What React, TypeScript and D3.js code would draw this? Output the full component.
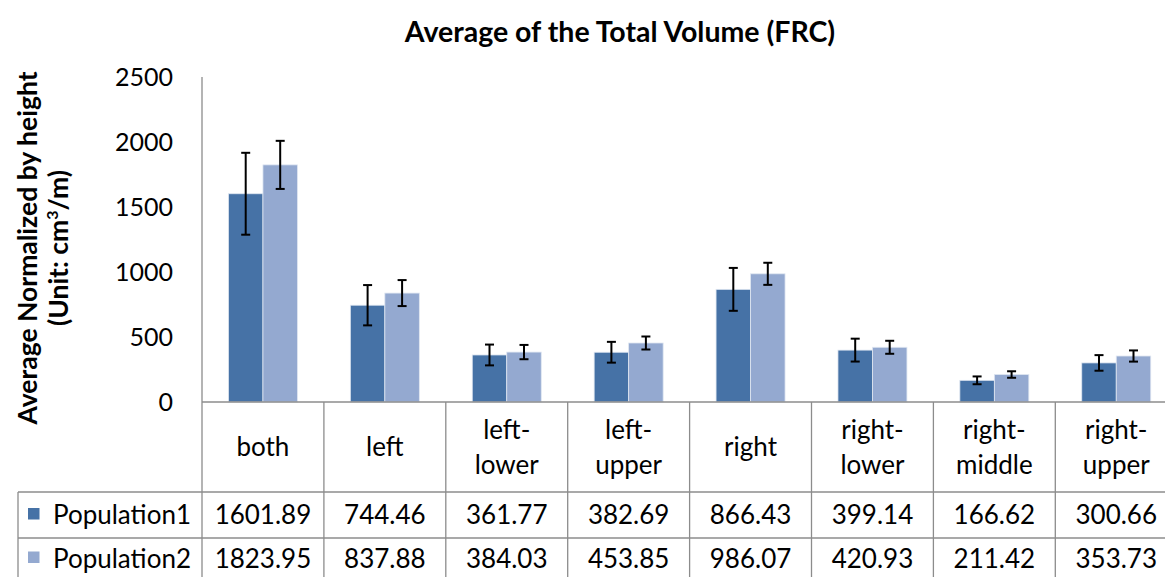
import React from "react";
import * as d3 from "d3";

const categories = [
  ["both"],
  ["left"],
  ["left-", "lower"],
  ["left-", "upper"],
  ["right"],
  ["right-", "lower"],
  ["right-", "middle"],
  ["right-", "upper"],
];
const seriesNames = ["Population1", "Population2"];
const pop1 = [1601.89, 744.46, 361.77, 382.69, 866.43, 399.14, 166.62, 300.66];
const pop2 = [1823.95, 837.88, 384.03, 453.85, 986.07, 420.93, 211.42, 353.73];
const err1 = [315, 155, 80, 80, 165, 88, 30, 60];
const err2 = [185, 100, 55, 50, 85, 50, 25, 43];
const yTicks = [0, 500, 1000, 1500, 2000, 2500];
const colors = ["#4672A6", "#94A9D0"];

const FONT = "Lato, 'Open Sans', sans-serif";

export default function App() {
  const W = 1165, H = 577;
  const left = 202, colW = 121.9;
  const keys = categories.map((c) => c.join(""));
  const x0 = d3.scaleBand<string>().domain(keys).range([left, left + colW * keys.length]).padding(0);
  const x1 = d3.scaleBand<string>().domain(seriesNames).range([0, x0.bandwidth()]).paddingInner(0).paddingOuter(0.767);
  const y = d3.scaleLinear().domain([0, 2500]).range([402, 77]);
  const values = [pop1, pop2];
  const errs = [err1, err2];
  const tableTop = 402, headBottom = 492, row1Bottom = 538, row2Bottom = 580;
  const axisColor = "#8c8c8c";
  const fs = 26;

  return (
    <svg width={W} height={H} style={{ position: "absolute", left: 0, top: 0, background: "#fff" }} fontFamily={FONT}>
      <text x={620} y={42} textAnchor="middle" fontSize={28.5} fontWeight="bold" fill="#000">
        Average of the Total Volume (FRC)
      </text>
      <g transform={`translate(37,${248}) rotate(-90)`}>
        <text x={0} y={0} textAnchor="middle" fontSize={26.5} fontWeight="bold" fill="#000">
          Average Normalized by height
        </text>
        <text x={0} y={31} textAnchor="middle" fontSize={26.5} fontWeight="bold" fill="#000">
          (Unit: cm<tspan fontSize={16} dy={-10}>3</tspan><tspan dy={10}>/m)</tspan>
        </text>
      </g>
      {yTicks.map((t) => (
        <text key={t} x={173} y={y(t)} dy="0.35em" textAnchor="end" fontSize={25} fill="#000">
          {t}
        </text>
      ))}
      {keys.map((k, i) => (
        <g key={k} transform={`translate(${x0(k)},0)`}>
          {seriesNames.map((s, j) => {
            const v = values[j][i];
            const bx = x1(s)!;
            const bw = x1.bandwidth();
            const cx = bx + bw / 2;
            const e = errs[j][i];
            return (
              <g key={s}>
                <rect x={bx} y={y(v)} width={bw} height={y(0) - y(v)} fill={colors[j]} stroke="#dfe6f1" strokeWidth={0.8} />
                <line x1={cx} x2={cx} y1={y(v + e)} y2={y(v - e)} stroke="#000" strokeWidth={2} />
                <line x1={cx - 4.5} x2={cx + 4.5} y1={y(v + e)} y2={y(v + e)} stroke="#000" strokeWidth={2} />
                <line x1={cx - 4.5} x2={cx + 4.5} y1={y(v - e)} y2={y(v - e)} stroke="#000" strokeWidth={2} />
              </g>
            );
          })}
        </g>
      ))}
      <line x1={left} x2={left} y1={y(2500)} y2={row2Bottom} stroke={axisColor} strokeWidth={1.3} />
      <line x1={left} x2={W} y1={y(0)} y2={y(0)} stroke={axisColor} strokeWidth={1.3} />
      {keys.map((k) => (
        <line key={k} x1={x0(k)! + colW} x2={x0(k)! + colW} y1={tableTop} y2={row2Bottom} stroke={axisColor} strokeWidth={1.3} />
      ))}
      <line x1={18} x2={W} y1={headBottom} y2={headBottom} stroke={axisColor} strokeWidth={1.3} />
      <line x1={18} x2={W} y1={row1Bottom} y2={row1Bottom} stroke={axisColor} strokeWidth={1.3} />
      <line x1={18} x2={18} y1={headBottom} y2={row2Bottom} stroke={axisColor} strokeWidth={1.3} />
      {categories.map((lines, i) => {
        const cx = x0(keys[i])! + colW / 2;
        const mid = (tableTop + headBottom) / 2;
        return (
          <text key={i} x={cx} textAnchor="middle" fontSize={fs} fill="#000">
            {lines.map((l, li) => (
              <tspan key={li} x={cx} y={mid + (li - (lines.length - 1) / 2) * 35} dy="0.35em">
                {l}
              </tspan>
            ))}
          </text>
        );
      })}
      {seriesNames.map((s, j) => {
        const rowMid = j === 0 ? (headBottom + row1Bottom) / 2 : (row1Bottom + 577) / 2 + 1;
        return (
          <g key={s}>
            <rect x={28} y={rowMid - 7} width={11.5} height={11.5} fill={colors[j]} />
            <text x={53} y={rowMid} dy="0.35em" fontSize={fs} fill="#000">
              {s}
            </text>
            {values[j].map((v, i) => (
              <text key={i} x={x0(keys[i])! + colW / 2} y={rowMid} dy="0.35em" textAnchor="middle" fontSize={fs} fill="#000">
                {v.toFixed(2)}
              </text>
            ))}
          </g>
        );
      })}
    </svg>
  );
}
